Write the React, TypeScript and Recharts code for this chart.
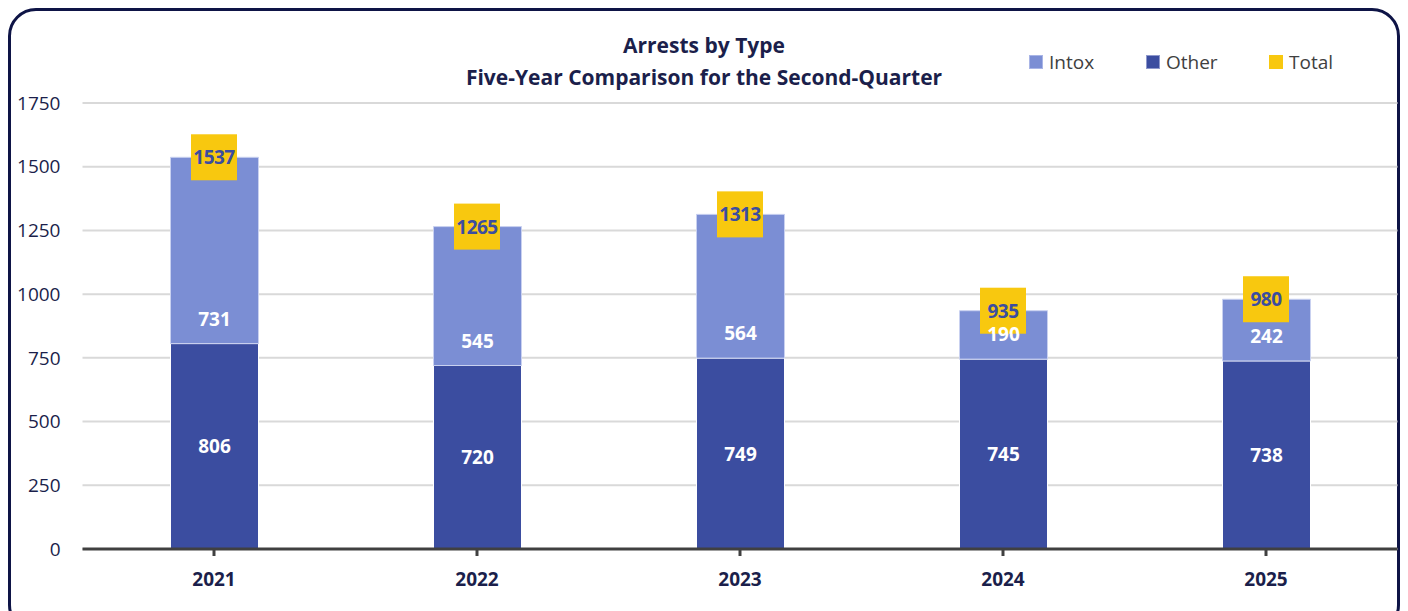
import { ComposedChart, Bar, Line, XAxis, YAxis, CartesianGrid, LabelList } from 'recharts';

const YEARS = ['2021', '2022', '2023', '2024', '2025'];
const OTHER = [806, 720, 749, 745, 738];
const INTOX = [731, 545, 564, 190, 242];
const TOTAL = [1537, 1265, 1313, 935, 980];
const Y_TICKS = [0, 250, 500, 750, 1000, 1250, 1500, 1750];

const NAVY = '#1b1f4b';
const OTHER_COLOR = '#3b4da0';
const INTOX_COLOR = '#7b8ed4';
const TOTAL_COLOR = '#f8c80f';
const FONT = '"Open Sans", "Noto Sans", sans-serif';

const LEGEND = [
  { name: 'Intox', color: INTOX_COLOR, border: '#a9b5e6', left: 1021 },
  { name: 'Other', color: OTHER_COLOR, border: '#8e98cc', left: 1138 },
  { name: 'Total', color: TOTAL_COLOR, border: TOTAL_COLOR, left: 1261 },
];

const data = YEARS.map((year, i) => ({
  year,
  other: OTHER[i],
  intox: INTOX[i],
  total: TOTAL[i],
}));

function CenterLabel(props: any) {
  const { x, y, width, height, value } = props;
  return (
    <text x={x + width / 2} y={y + height / 2} textAnchor="middle" dominantBaseline="central"
      fill="#fff" fontSize={19} fontWeight={700} fontFamily={FONT}>
      {value}
    </text>
  );
}

// Excel style "inside base" label for the upper segment
function BaseLabel(props: any) {
  const { x, y, width, height, value } = props;
  return (
    <text x={x + width / 2} y={y + height - 25} textAnchor="middle" dominantBaseline="central"
      fill="#fff" fontSize={19} fontWeight={700} fontFamily={FONT}>
      {value}
    </text>
  );
}

function TotalLabel(props: any) {
  const { x, y, value } = props;
  return (
    <g>
      <rect x={x - 23} y={y - 23} width={46} height={46} fill={TOTAL_COLOR} />
      <text x={x} y={y} textAnchor="middle" dominantBaseline="central"
        fill={OTHER_COLOR} fontSize={19} fontWeight={700} fontFamily={FONT} letterSpacing={-0.5}>
        {value}
      </text>
    </g>
  );
}

export default function App() {
  return (
    <div style={{ position: 'relative', width: 1392, height: 611, fontFamily: FONT }}>
      <style>{'body{overflow:hidden}'}</style>
      <div style={{
        position: 'absolute', left: 0, top: 0, width: 1392, height: 625, boxSizing: 'border-box',
        border: '3px solid #0e1446', borderRadius: 28, pointerEvents: 'none',
      }} />
      <div style={{
        position: 'absolute', left: 0, top: 21, width: 1392, textAlign: 'center',
        fontSize: 21, fontWeight: 700, lineHeight: '32px', color: NAVY,
      }}>
        <div>Arrests by Type</div>
        <div>Five-Year Comparison for the Second-Quarter</div>
      </div>
      {LEGEND.map((item) => (
        <div key={item.name} style={{
          position: 'absolute', left: item.left, top: 41, display: 'flex', alignItems: 'center',
          fontSize: 19, color: '#404040', lineHeight: '26px',
        }}>
          <span style={{
            display: 'inline-block', width: 14, height: 14, boxSizing: 'border-box',
            background: item.color, border: `1px solid ${item.border}`, marginRight: 6,
          }} />
          {item.name}
        </div>
      ))}
      <div style={{ position: 'absolute', left: 0, top: 0 }}>
        <ComposedChart width={1392} height={611} data={data}
          margin={{ top: 95, right: 2.5, bottom: 30, left: 14.5 }}>
          <CartesianGrid vertical={false} stroke="#d9d9d9" strokeWidth={2} />
          <XAxis dataKey="year" height={40} axisLine={{ stroke: '#404040', strokeWidth: 3 }}
            tickLine={{ stroke: '#404040', strokeWidth: 3 }} tickSize={7} tickMargin={17}
            tick={{ fill: NAVY, fontSize: 19, fontWeight: 700, fontFamily: FONT }} />
          <YAxis width={60} domain={[0, 1750]} ticks={Y_TICKS} axisLine={false} tickLine={false}
            tickSize={0} tickMargin={22}
            tick={{ fill: NAVY, fontSize: 19, fontFamily: FONT }} />
          <Line dataKey="total" stroke="none" dot={false} activeDot={false} isAnimationActive={false}>
            <LabelList dataKey="total" content={TotalLabel} />
          </Line>
          <Bar dataKey="other" stackId="a" fill={OTHER_COLOR} stroke="#ffffff" strokeWidth={1}
            barSize={88} isAnimationActive={false}>
            <LabelList dataKey="other" content={CenterLabel} />
          </Bar>
          <Bar dataKey="intox" stackId="a" fill={INTOX_COLOR} stroke="#c9d1f0" strokeWidth={1}
            barSize={88} isAnimationActive={false}>
            <LabelList dataKey="intox" content={BaseLabel} />
          </Bar>
        </ComposedChart>
      </div>
    </div>
  );
}
